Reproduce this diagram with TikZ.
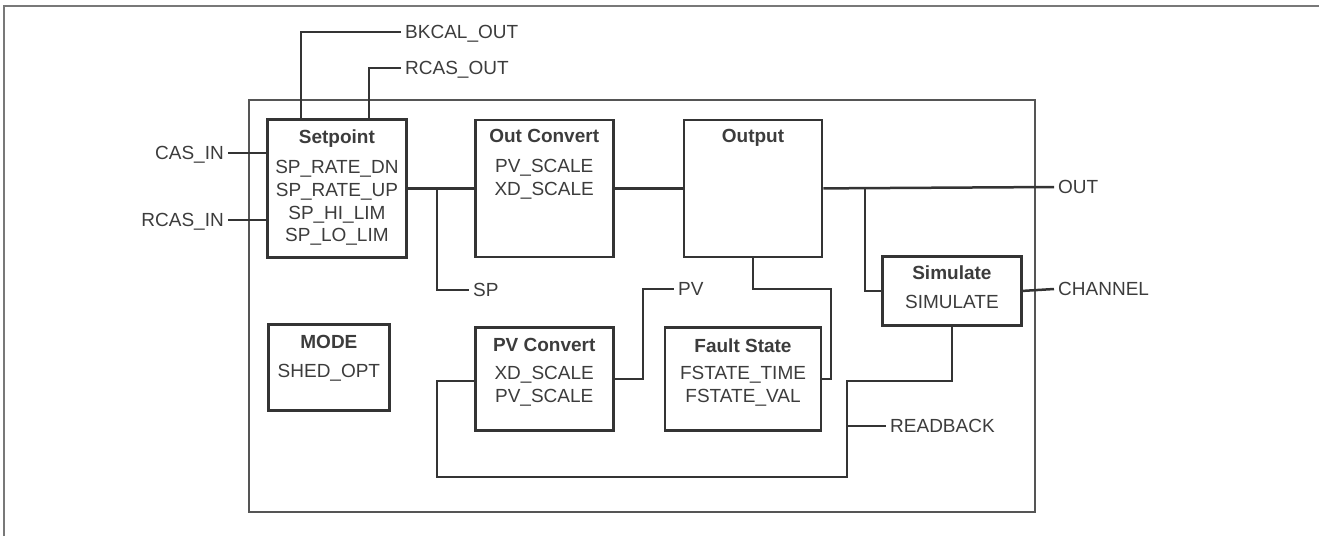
\documentclass[tikz,border=0pt]{standalone}
\usepackage{fontspec}
\setmainfont{Liberation Sans}
\usetikzlibrary{positioning}
\definecolor{linegray}{RGB}{52,52,52}
\definecolor{txtgray}{RGB}{60,60,60}
\definecolor{framegray}{RGB}{120,120,120}
\definecolor{outergray}{RGB}{85,85,85}

\begin{document}
\begin{tikzpicture}[
  x=1pt, y=-1pt,
  every node/.style={font=\fontsize{19}{22.7}\selectfont, text=txtgray},
  box/.style={rectangle, draw=linegray, line width=2.8pt, inner sep=0pt},
  boxtxt/.style={align=center, anchor=north, inner sep=0pt},
  sig/.style={inner xsep=4pt, inner ysep=0pt, text depth=0pt},
  wire/.style={draw=linegray, line width=2.5pt},
]
\useasboundingbox (0,0) rectangle (1319,536);

%% Frame and block outline
\draw[framegray, line width=1.6pt] (4,536) -- (4,6) -- (1319,6);
\draw[outergray, line width=1.5pt] (249,100) rectangle (1035,512);

%% Blocks
\node[box, minimum width=139pt, minimum height=138pt, anchor=north west] (setpoint) at (266,118) {};
\node[box, minimum width=138pt, minimum height=137pt, right=66pt of setpoint] (outconv) {};
\node[box, minimum width=138pt, minimum height=137pt, right=68pt of outconv] (output) {};
\node[box, minimum width=139pt, minimum height=69pt, anchor=north west] (simulate) at (881,255) {};
\node[box, minimum width=138pt, minimum height=103pt, below=68pt of outconv] (pvconv) {};
\node[box, minimum width=156pt, minimum height=103pt, right=49pt of pvconv] (faultst) {};
\node[box, minimum width=121pt, minimum height=86pt, anchor=north west] (mode) at (267,323) {};

%% Block texts
\node[boxtxt] (setpoint-txt) at ([yshift=-12pt]setpoint.north)
  {\textbf{Setpoint}\\[7pt]SP\_RATE\_DN\\SP\_RATE\_UP\\SP\_HI\_LIM\\SP\_LO\_LIM};
\node[boxtxt] (outconv-txt) at ([yshift=-11pt]outconv.north)
  {\textbf{Out Convert}\\[7pt]PV\_SCALE\\XD\_SCALE};
\node[boxtxt] (output-txt) at ([yshift=-11pt]output.north) {\textbf{Output}};
\node[boxtxt] (simulate-txt) at ([yshift=-11pt]simulate.north)
  {\textbf{Simulate}\\[6pt]SIMULATE};
\node[boxtxt] (pvconv-txt) at ([yshift=-12pt]pvconv.north)
  {\textbf{PV Convert}\\[5pt]XD\_SCALE\\PV\_SCALE};
\node[boxtxt] (faultst-txt) at ([yshift=-12pt]faultst.north)
  {\textbf{Fault State}\\[5pt]FSTATE\_TIME\\FSTATE\_VAL};
\node[boxtxt] (mode-txt) at ([yshift=-12pt]mode.north)
  {\textbf{MODE}\\[6pt]SHED\_OPT};

%% Signals
\node[sig, anchor=east] (casin) at (228,153) {CAS\_IN};
\node[sig, anchor=east] (rcasin) at (228,220) {RCAS\_IN};
\node[sig, anchor=west] (bkcal) at (401,32) {BKCAL\_OUT};
\node[sig, anchor=west] (rcasout) at (401,68) {RCAS\_OUT};
\node[sig, anchor=west] (sp) at (469,290) {SP};
\node[sig, anchor=west] (pv) at (674,289) {PV};
\node[sig, anchor=west] (out) at (1054,187) {OUT};
\node[sig, anchor=west] (channel) at (1054,289) {CHANNEL};
\node[sig, anchor=west] (readback) at (886,426) {READBACK};

%% Junctions
\coordinate (spj) at (437,187);
\coordinate (outj) at (865,187);
\coordinate (fsj) at (831,289);
\coordinate (pvj) at (643,289);
\coordinate (rbj) at (847,381);
\coordinate (loopj) at (437,381);

%% Wires
\draw[wire] (casin.east) -- (casin.east -| setpoint.west);
\draw[wire] (rcasin.east) -- (rcasin.east -| setpoint.west);
\draw[wire] (bkcal.west) -| ([xshift=35pt]setpoint.north west);
\draw[wire] (rcasout.west) -| ([xshift=103pt]setpoint.north west);
\draw[wire] (setpoint.east) -- (outconv.west);
\draw[wire] (spj) |- (sp.west);
\draw[wire] (outconv.east) -- (output.west);
\draw[wire] (output.east) -- (out.west);
\draw[wire] (outj) |- (simulate.west);
\draw[wire] (simulate.east) -- (channel.west);
\draw[wire] (output.south) |- (fsj) |- (faultst.east);
\draw[wire] (pvconv.east) -| (pvj) -- (pv.west);
\draw[wire] (simulate.south) |- (rbj) -- (847,477) -| (loopj) -- (loopj -| pvconv.west);
\draw[wire] (rbj |- readback.west) -- (readback.west);

\end{tikzpicture}
\end{document}
